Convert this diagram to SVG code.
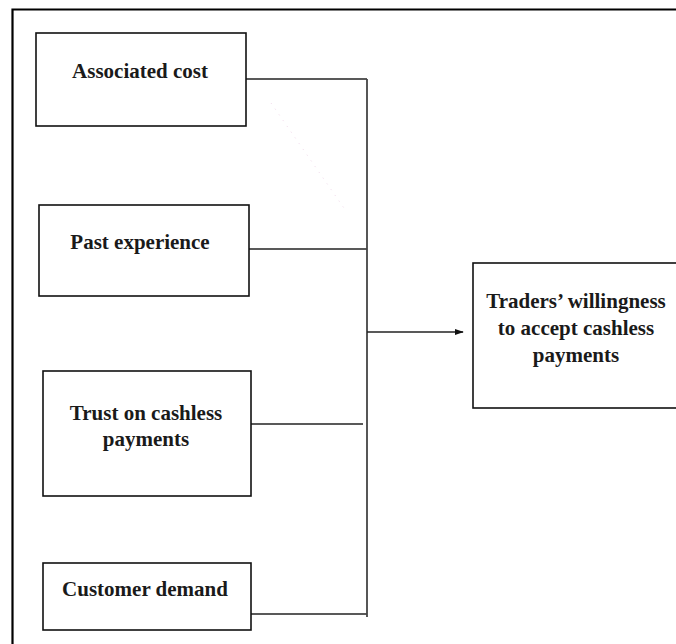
<svg xmlns="http://www.w3.org/2000/svg" width="676" height="644" viewBox="0 0 676 644">
<defs>
<style>
.box{fill:#fff;stroke:#111;stroke-width:1.6}
.ln{fill:none;stroke:#222;stroke-width:1.4}
.vl{fill:none;stroke:#444;stroke-width:1.8}
.t{font-family:"Liberation Serif","Times New Roman",serif;font-weight:bold;font-size:21px;fill:#1a1a1a;text-anchor:middle}
</style>
<marker id="ah" viewBox="0 0 10 10" refX="9" refY="5" markerWidth="9" markerHeight="9" markerUnits="userSpaceOnUse" orient="auto">
<path d="M0,1.5 L10,5 L0,8.5 Z" fill="#111"/>
</marker>
</defs>
<rect x="0" y="0" width="676" height="644" fill="#fff"/>
<path d="M12.5,644 V9.5 H676" fill="none" stroke="#000" stroke-width="2.2"/>
<g id="connectors">
<path class="ln" d="M246,79 H367"/>
<path class="ln" d="M249,249 H367"/>
<path class="ln" d="M251,424 H363"/>
<path class="ln" d="M251,614 H367"/>
<path class="vl" d="M367,79 V617"/>
<path class="ln" d="M367,332 H463" marker-end="url(#ah)"/>
<path d="M271,103 L346,211" fill="none" stroke="#f0d8ea" stroke-width="1" stroke-dasharray="1,6"/>
</g>
<g id="associated-cost">
<rect class="box" x="36" y="33" width="210" height="93"/>
<text class="t" x="140" y="78">Associated cost</text>
</g>
<g id="past-experience">
<rect class="box" x="39" y="205" width="210" height="91"/>
<text class="t" x="140" y="249">Past experience</text>
</g>
<g id="trust">
<rect class="box" x="43" y="371" width="208" height="125"/>
<text class="t" x="146" y="420">Trust on cashless</text>
<text class="t" x="146" y="446">payments</text>
</g>
<g id="customer-demand">
<rect class="box" x="43" y="563" width="208" height="67"/>
<text class="t" x="145" y="596">Customer demand</text>
</g>
<g id="traders-willingness">
<rect class="box" x="473" y="263" width="215" height="145"/>
<text class="t" x="576" y="308">Traders’ willingness</text>
<text class="t" x="576" y="335">to accept cashless</text>
<text class="t" x="576" y="362">payments</text>
</g>
</svg>
